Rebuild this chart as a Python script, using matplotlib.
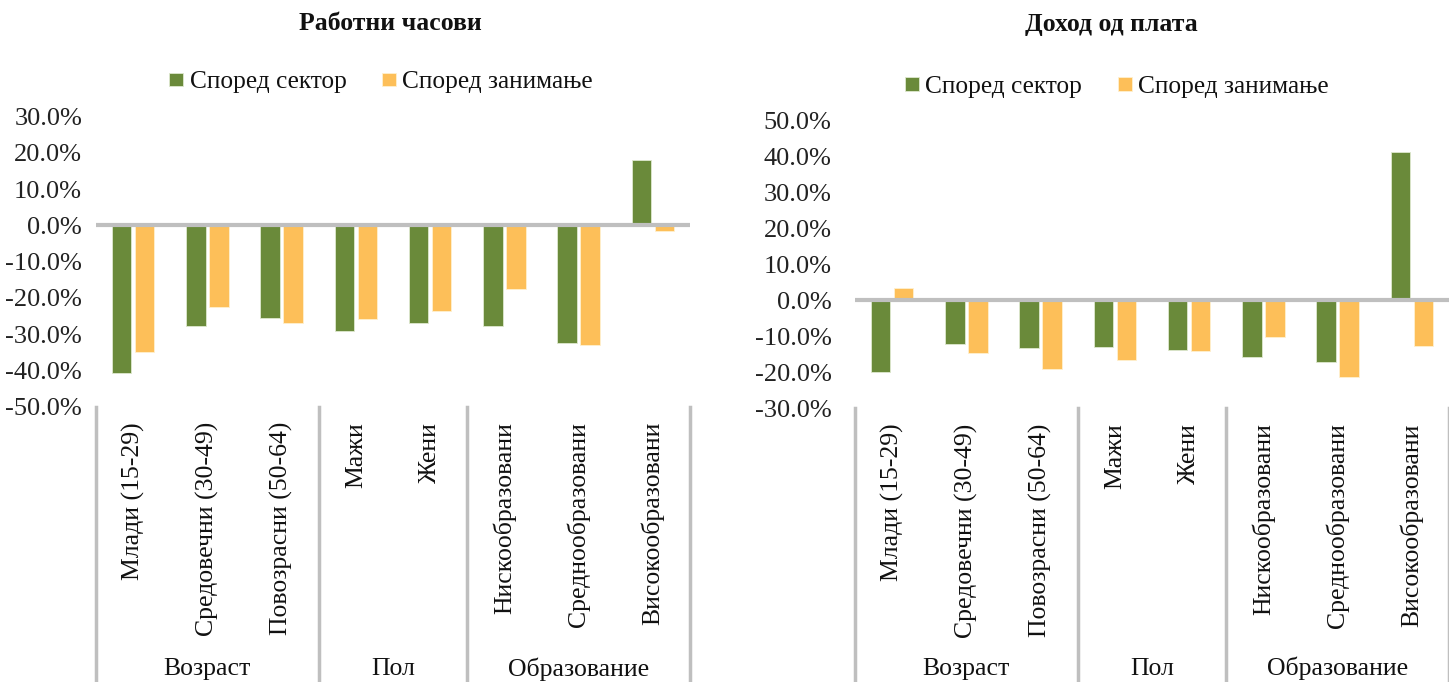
import matplotlib

matplotlib.use("Agg")
import matplotlib.pyplot as plt
import matplotlib.transforms as mtransforms
from matplotlib.ticker import FuncFormatter
import numpy as np

plt.rcParams["font.family"] = ["Liberation Serif", "DejaVu Serif"]

CATEGORIES = [
    "Млади (15-29)", "Средовечни (30-49)", "Повозрасни (50-64)",
    "Мажи", "Жени",
    "Нискообразовани", "Среднообразовани", "Високообразовани",
]
GROUPS = [("Возраст", 0, 2), ("Пол", 3, 4), ("Образование", 5, 7)]
SERIES = ["Според сектор", "Според занимање"]
COLORS = ["#6A8A3A", "#FDBF59"]

hours_sector = [-40.6, -27.7, -25.6, -29.1, -27.0, -27.6, -32.5, 18.0]
hours_occup = [-34.9, -22.6, -26.9, -25.8, -23.6, -17.5, -33.1, -1.5]
wage_sector = [-19.9, -12.0, -13.3, -12.9, -13.7, -15.7, -17.0, 41.2]
wage_occup = [3.4, -14.6, -19.1, -16.7, -14.1, -10.2, -21.3, -12.7]

# title, series, y-range, then layout tweaks (title x/y, legend x/y, ytick pad)
PANELS = [
    ("Работни часови", hours_sector, hours_occup, (-50, 30), (0.495, 1.32), (0.48, 1.118), 10),
    ("Доход од плата", wage_sector, wage_occup, (-30, 50), (0.431, 1.336), (0.441, 1.116), 17),
]
AX_RECTS = [
    [96 / 1449, 1 - 406.7 / 682, 594 / 1449, 290 / 682],
    [855 / 1449, 1 - 408.3 / 682, 594 / 1449, 287.6 / 682],
]


def draw_panel(ax, title, sector, occup, ylim, title_pos, legend_pos, ypad):
    x = np.arange(len(CATEGORIES))
    w = 0.265
    ax.bar(x - 0.155, sector, width=w, color=COLORS[0], edgecolor="#dfe8cf", linewidth=0.6,
           label=SERIES[0], zorder=2)
    ax.bar(x + 0.155, occup, width=w, color=COLORS[1], edgecolor="#fff0d0", linewidth=0.6,
           label=SERIES[1], zorder=2)
    ax.axhline(0, color="#BFBFBF", linewidth=3, zorder=3)
    ax.set_xlim(-0.5, len(CATEGORIES) - 0.5)
    ax.set_ylim(*ylim)
    ax.set_yticks(np.arange(ylim[0], ylim[1] + 1, 10))
    ax.yaxis.set_major_formatter(FuncFormatter(lambda v, _: f"{v:.1f}%"))
    ax.tick_params(axis="y", length=0, labelsize=19, pad=ypad, labelcolor="#222222")
    ax.set_xticks(x, CATEGORIES, rotation=90)
    ax.tick_params(axis="x", length=0, labelsize=18.5, pad=11, labelcolor="#111111")
    for s in ax.spines.values():
        s.set_visible(False)

    # multi-level category axis: group separators and group names
    trans = mtransforms.blended_transform_factory(ax.transData, ax.transAxes)
    bounds = [-0.5] + [g[2] + 0.5 for g in GROUPS]
    for b in bounds:
        ax.plot([b, b], [0, -1.2], transform=trans, color="#BFBFBF", linewidth=2.5,
                clip_on=False)
    for name, start, end in GROUPS:
        ax.text((start + end) / 2, -0.905, name, transform=trans, ha="center", va="center",
                fontsize=18.5, color="#111111")

    ax.text(title_pos[0], title_pos[1], title, transform=ax.transAxes, ha="center",
            va="center", fontsize=18.5, fontweight="bold", color="#111111")
    ax.legend(loc="center", bbox_to_anchor=legend_pos, ncol=2, frameon=False,
              fontsize=18.3, handlelength=0.55, handleheight=0.45, handletextpad=0.25,
              columnspacing=1.4, labelcolor="#111111")


fig = plt.figure(figsize=(14.49, 6.82), dpi=100)
for rect, (title, sector, occup, ylim, tpos, lpos, ypad) in zip(AX_RECTS, PANELS):
    ax = fig.add_axes(rect)
    draw_panel(ax, title, sector, occup, ylim, tpos, lpos, ypad)

fig.savefig("out.png", dpi=100)
